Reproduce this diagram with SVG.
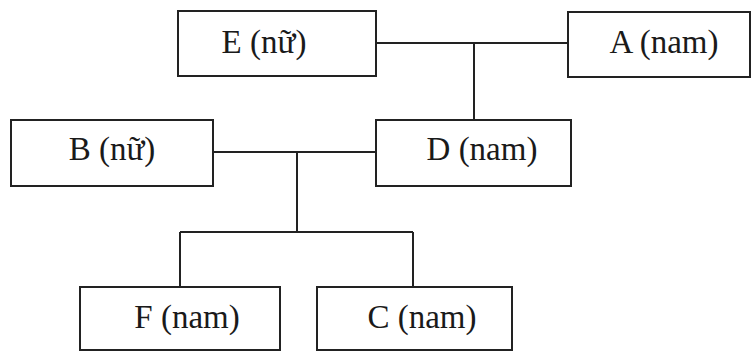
<svg xmlns="http://www.w3.org/2000/svg" width="753" height="352" viewBox="0 0 753 352">
<style>
.box{fill:#fff;stroke:#222;stroke-width:2}
.lbl{font-family:"Liberation Serif","Times New Roman",serif;font-size:33px;fill:#1a1a1a;text-anchor:middle}
.con{fill:none;stroke:#222;stroke-width:2}
</style>
<rect width="753" height="352" fill="#fff"/>
<g id="connectors">
<line class="con" x1="376" y1="43" x2="568" y2="43"/>
<line class="con" x1="474" y1="43" x2="474" y2="120"/>
<line class="con" x1="213" y1="152" x2="376" y2="152"/>
<line class="con" x1="297" y1="152" x2="297" y2="232"/>
<line class="con" x1="180" y1="232" x2="413" y2="232"/>
<line class="con" x1="180" y1="232" x2="180" y2="287"/>
<line class="con" x1="413" y1="232" x2="413" y2="287"/>
</g>
<g id="E"><rect class="box" x="178" y="11" width="198" height="65"/><text class="lbl" x="264" y="53">E (nữ)</text></g>
<g id="A"><rect class="box" x="568" y="12" width="182" height="65"/><text class="lbl" x="664" y="53">A (nam)</text></g>
<g id="B"><rect class="box" x="11" y="120" width="202" height="66"/><text class="lbl" x="112" y="160">B (nữ)</text></g>
<g id="D"><rect class="box" x="376" y="120" width="195" height="66"/><text class="lbl" x="482" y="160">D (nam)</text></g>
<g id="F"><rect class="box" x="80" y="287" width="200" height="63"/><text class="lbl" x="187" y="328">F (nam)</text></g>
<g id="C"><rect class="box" x="317" y="287" width="195" height="63"/><text class="lbl" x="422" y="328">C (nam)</text></g>
</svg>
